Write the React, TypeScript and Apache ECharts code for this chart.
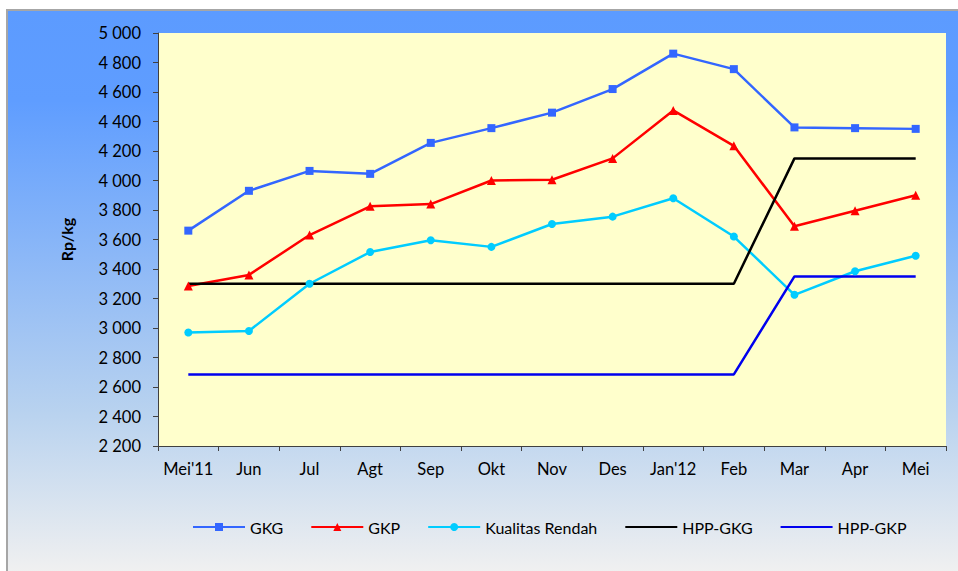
import React, { useEffect, useRef } from "react";
import * as echarts from "echarts";

const categories = ["Mei'11", "Jun", "Jul", "Agt", "Sep", "Okt", "Nov", "Des", "Jan'12", "Feb", "Mar", "Apr", "Mei"];
const gkg = [3660, 3930, 4065, 4045, 4255, 4355, 4460, 4620, 4860, 4755, 4360, 4355, 4350];
const gkp = [3285, 3360, 3630, 3825, 3840, 4000, 4005, 4150, 4475, 4235, 3690, 3795, 3900];
const kualitasRendah = [2970, 2980, 3300, 3515, 3595, 3550, 3705, 3755, 3880, 3620, 3225, 3385, 3490];
const hppGkg = [3300, 3300, 3300, 3300, 3300, 3300, 3300, 3300, 3300, 3300, 4150, 4150, 4150];
const hppGkp = [2685, 2685, 2685, 2685, 2685, 2685, 2685, 2685, 2685, 2685, 3350, 3350, 3350];

const FONT = "Lato";

export default function App() {
  const ref = useRef<HTMLDivElement>(null);
  useEffect(() => {
    if (!ref.current) return;
    const chart = echarts.init(ref.current, null, { renderer: "svg" });
    const fmt = (v: number) => {
      const s = String(v);
      return s.length > 3 ? s.slice(0, s.length - 3) + " " + s.slice(-3) : s;
    };
    chart.setOption({
      animation: false,
      textStyle: { fontFamily: FONT },
      grid: {
        left: 158,
        top: 33,
        right: 12,
        bottom: 125,
        show: true,
        backgroundColor: "#ffffcc",
        borderWidth: 0,
      },
      legend: {
        left: 192,
        top: 519,
        padding: 0,
        itemWidth: 52,
        itemHeight: 10,
        itemGap: 27,
        textStyle: { fontFamily: FONT, fontSize: 16, color: "#000" },
        data: [
          "GKG",
          "GKP",
          "Kualitas Rendah",
          { name: "HPP-GKG", itemStyle: { opacity: 0 } },
          { name: "HPP-GKP", itemStyle: { opacity: 0 } },
        ],
      },
      xAxis: {
        type: "category",
        data: categories,
        boundaryGap: true,
        axisLine: { lineStyle: { color: "#404040", width: 1 } },
        axisTick: { show: true, length: 5, lineStyle: { color: "#404040" } },
        axisLabel: { color: "#000", fontSize: 16.5, fontFamily: FONT, margin: 14, interval: 0 },
        splitLine: { show: false },
      },
      yAxis: {
        type: "value",
        min: 2200,
        max: 5000,
        interval: 200,
        name: "Rp/kg",
        nameLocation: "middle",
        nameGap: 84,
        nameTextStyle: { fontFamily: FONT, fontWeight: "bold", fontSize: 16, color: "#000" },
        axisLine: { show: true, lineStyle: { color: "#404040", width: 1 } },
        axisTick: { show: true, length: 5, lineStyle: { color: "#404040" } },
        axisLabel: { color: "#000", fontSize: 16.5, fontFamily: FONT, margin: 17, formatter: fmt },
        splitLine: { show: false },
      },
      series: [
        {
          name: "GKG",
          type: "line",
          data: gkg,
          symbol: "rect",
          symbolSize: 8,
          itemStyle: { color: "#3366ff" },
          lineStyle: { color: "#3366ff", width: 2.5 },
        },
        {
          name: "GKP",
          type: "line",
          data: gkp,
          symbol: "triangle",
          symbolSize: 9,
          itemStyle: { color: "#ff0000" },
          lineStyle: { color: "#ff0000", width: 2.5 },
        },
        {
          name: "Kualitas Rendah",
          type: "line",
          data: kualitasRendah,
          symbol: "circle",
          symbolSize: 8,
          itemStyle: { color: "#00ccff" },
          lineStyle: { color: "#00ccff", width: 2.5 },
        },
        {
          name: "HPP-GKG",
          type: "line",
          data: hppGkg,
          symbol: "none",
          itemStyle: { color: "#000000" },
          lineStyle: { color: "#000000", width: 2.5 },
        },
        {
          name: "HPP-GKP",
          type: "line",
          data: hppGkp,
          symbol: "none",
          itemStyle: { color: "#0000ee" },
          lineStyle: { color: "#0000ee", width: 2.5 },
        },
      ],
    });
    return () => chart.dispose();
  }, []);

  return (
    <div style={{ position: "absolute", left: 0, top: 0, width: 958, height: 571, overflow: "hidden", background: "#fff" }}>
      <div
        style={{
          position: "absolute",
          left: 6,
          top: 9,
          width: 980,
          height: 600,
          borderTop: "2px solid #a6a6a6",
          borderLeft: "2px solid #a6a6a6",
          background: "linear-gradient(to bottom, #5c9bff 0px, #5f9dff 90px, #b8d2ef 400px, #f0f0f0 561px)",
        }}
      />
      <div ref={ref} style={{ position: "absolute", left: 0, top: 0, width: 958, height: 571 }} />
    </div>
  );
}
